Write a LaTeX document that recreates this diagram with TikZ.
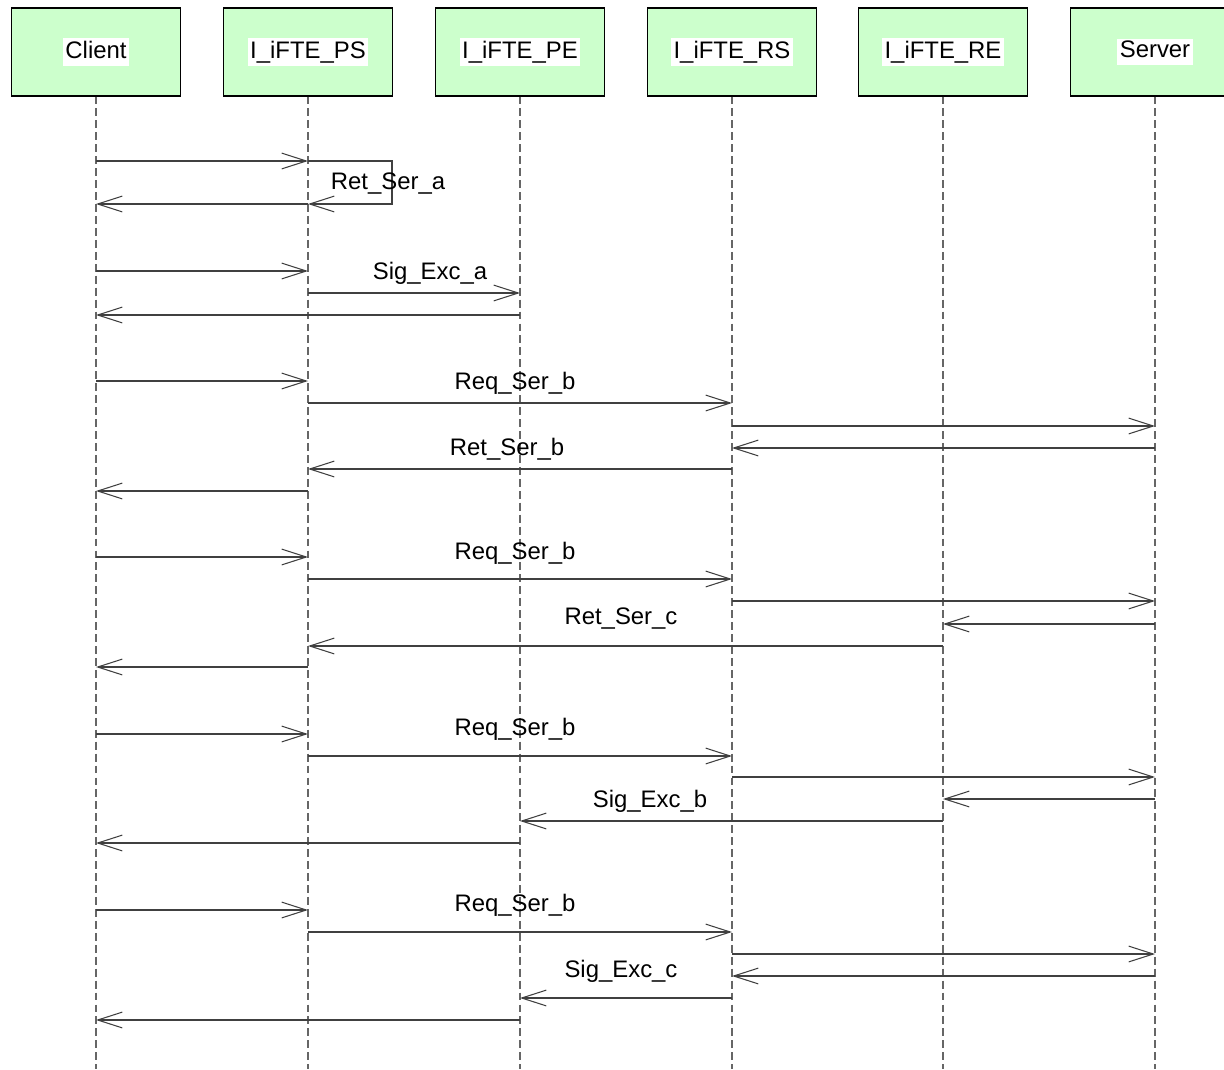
\documentclass[tikz,border=0pt]{standalone}
\usepackage{fontspec}
\setmainfont{Liberation Sans}
\usetikzlibrary{arrows.meta}
\definecolor{headgreen}{RGB}{204,255,204}
\tikzset{
  head/.style={draw=black,fill=headgreen,minimum width=3.38cm,minimum height=1.76cm,line width=0.6pt},
  life/.style={draw=black!60,dash pattern=on 4.5pt off 2.3pt,line width=0.6pt},
  msg/.style={draw=black!75,line width=0.6pt,-{Straight Barb[length=14pt,width=9pt]}}
}
\setlength{\fboxsep}{1.5pt}
\begin{document}
\begin{tikzpicture}[x=0.02cm,y=-0.02cm,font=\fontsize{13.6}{16}\selectfont]
	\useasboundingbox (0,0) rectangle (1224,1069);
	% lifelines
	\foreach \n/\x/\t in {cl/96/Client,ps/308/I\_iFTE\_PS,pe/520/I\_iFTE\_PE,rs/732/I\_iFTE\_RS,re/943/I\_iFTE\_RE,sv/1155/Server}{
		\node[head] (\n) at (\x,52) {\colorbox{white}{\vphantom{Ig\_}\t}};
		\draw[life] (\n.south) -- (\n |- 0,1069);
	}
	% messages
	\draw[msg] (ps |- 0,161) -| (392,204) -- (ps |- 0,204);
	\foreach \a/\b/\y in {cl/ps/161,ps/cl/204,
		cl/ps/271,ps/pe/293,pe/cl/315,
		cl/ps/381,ps/rs/403,rs/sv/426,sv/rs/448,rs/ps/469,ps/cl/491,
		cl/ps/557,ps/rs/579,rs/sv/601,sv/re/624,re/ps/646,ps/cl/667,
		cl/ps/734,ps/rs/756,rs/sv/777,sv/re/799,re/pe/821,pe/cl/843,
		cl/ps/910,ps/rs/932,rs/sv/954,sv/rs/976,rs/pe/998,pe/cl/1020}
		\draw[msg] (\a |- 0,\y) -- (\b |- 0,\y);
	% labels
	\node (reta) at (388,184) {Ret\_Ser\_a};
	\node (siga) at (430,273) {Sig\_Exc\_a};
	\node (reqa) at (515,383) {Req\_Ser\_b};
	\node (retb) at (507,449) {Ret\_Ser\_b};
	\node (reqb) at (515,553) {Req\_Ser\_b};
	\node (retc) at (621,619) {Ret\_Ser\_c};
	\node (reqc) at (515,729) {Req\_Ser\_b};
	\node (sigb) at (650,801) {Sig\_Exc\_b};
	\node (reqd) at (515,905) {Req\_Ser\_b};
	\node (sigc) at (621,971) {Sig\_Exc\_c};
\end{tikzpicture}
\end{document}
